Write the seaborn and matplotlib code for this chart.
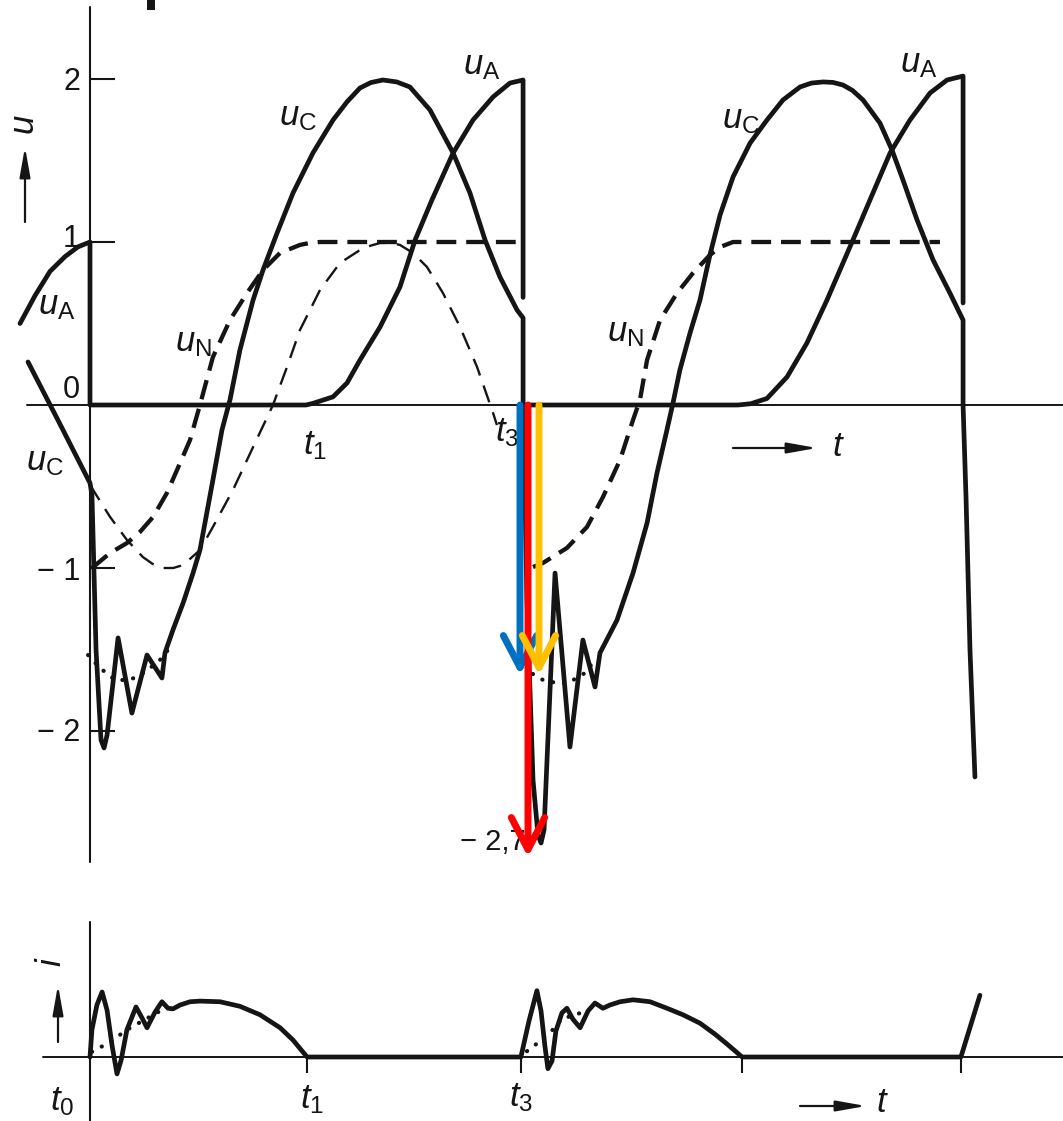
import matplotlib
matplotlib.use("Agg")
import matplotlib.pyplot as plt
from matplotlib.patches import Rectangle
import seaborn as sns

# ---------------- data (t: t0=0, t1=1, t3=2 ; u in units of the axis) -------------
# u_A, first period (before t0 it rises to 1, drops, stays 0, rises to 2, drops at t3)
UA1_T = [-0.324, -0.255, -0.185, -0.116, -0.056, 0.0, 0.0, 1.0, 1.032, 1.125, 1.190, 1.250,
         1.343, 1.435, 1.505, 1.583, 1.681, 1.773, 1.866, 1.944, 2.005, 2.005]
UA1 = [0.50, 0.67, 0.82, 0.91, 0.97, 1.0, 0.0, 0.0, 0.01, 0.05, 0.135, 0.276,
       0.479, 0.724, 1.012, 1.258, 1.546, 1.748, 1.890, 1.975, 1.994, 0.66]
# u_A, second period
UA2_T = [2.005, 3.0, 3.06, 3.134, 3.227, 3.319, 3.412, 3.486, 3.532, 3.611, 3.704,
         3.796, 3.889, 3.968, 4.042, 4.042]
UA2 = [0.0, 0.0, 0.008, 0.04, 0.172, 0.380, 0.644, 0.871, 1.012, 1.258, 1.546,
       1.748, 1.914, 1.994, 2.018, 0.626]
# u_C, both periods
UC_T = [-0.287, -0.144, 0.0, 0.009, 0.028, 0.051, 0.065, 0.079, 0.130, 0.194, 0.264, 0.333,
        0.347, 0.384, 0.431, 0.477, 0.509, 0.569, 0.611, 0.648, 0.694, 0.755, 0.801, 0.866,
        0.940, 1.032, 1.125, 1.19, 1.250, 1.30, 1.356, 1.42, 1.481, 1.574, 1.681, 1.759,
        1.829, 1.898, 1.977,
        2.005, 2.005, 2.023, 2.051, 2.074, 2.088, 2.102, 2.153, 2.222, 2.282, 2.338, 2.361,
        2.440, 2.514, 2.579, 2.625, 2.671, 2.699, 2.731, 2.778, 2.824, 2.870, 2.917, 2.977,
        3.056, 3.134, 3.208, 3.287, 3.34, 3.394, 3.44, 3.486, 3.53, 3.579, 3.657, 3.713,
        3.764, 3.829, 3.903, 3.981, 4.042, 4.042, 4.056, 4.074, 4.097]
UC = [0.264, -0.104, -0.479, -0.55, -1.503, -2.055, -2.104, -2.025, -1.429, -1.890, -1.534,
      -1.675, -1.521, -1.380, -1.215, -1.031, -0.890, -0.460, -0.153, 0.031, 0.337, 0.644,
      0.828, 1.055, 1.301, 1.546, 1.748, 1.86, 1.945, 1.978, 1.994, 1.982, 1.951, 1.810,
      1.546, 1.301, 1.012, 0.785, 0.583,
      0.534, 0.0, -1.196, -2.301, -2.638, -2.687, -2.607, -1.031, -2.098,
      -1.442, -1.730, -1.521, -1.319, -1.031, -0.724, -0.417, -0.153, 0.012, 0.215, 0.442,
      0.644, 0.920, 1.166, 1.399, 1.607, 1.748, 1.871, 1.951, 1.975, 1.982, 1.979, 1.963,
      1.93, 1.871, 1.730, 1.564, 1.380, 1.135, 0.890, 0.687, 0.521, 0.0, -0.583, -1.503,
      -2.282]
# u_N (thick dashed)
UN1_T = [0.009, 0.093, 0.171, 0.231, 0.292, 0.356, 0.417, 0.463, 0.509, 0.569, 0.648,
         0.727, 0.801, 0.880, 0.972, 1.02, 1.065, 1.981]
UN1 = [-1.0, -0.908, -0.847, -0.779, -0.687, -0.540, -0.356, -0.215, 0.0, 0.294, 0.521,
       0.687, 0.828, 0.933, 0.982, 0.995, 1.0, 1.0]
UN2_T = [2.051, 2.097, 2.208, 2.301, 2.375, 2.454, 2.514, 2.546, 2.579, 2.639, 2.718,
         2.792, 2.870, 2.917, 2.977, 3.935]
UN2 = [-0.994, -0.969, -0.877, -0.748, -0.564, -0.337, -0.092, 0.031, 0.276, 0.521, 0.687,
       0.810, 0.920, 0.969, 1.0, 1.0]
# thin dashed curve (first period only)
TH_T = [0.0, 0.093, 0.171, 0.245, 0.29, 0.338, 0.385, 0.431, 0.509, 0.569, 0.662, 0.755,
        0.847, 0.912, 0.972, 1.065, 1.157, 1.250, 1.30, 1.343, 1.39, 1.435, 1.495, 1.560,
        1.634, 1.713, 1.792, 1.866, 1.884]
TH = [-0.491, -0.687, -0.828, -0.933, -0.975, -1.0, -1.0, -0.982, -0.890, -0.748, -0.521,
      -0.258, 0.0, 0.233, 0.460, 0.706, 0.871, 0.951, 0.978, 0.994, 0.995, 0.982, 0.933,
      0.847, 0.687, 0.479, 0.233, -0.049, -0.123]
# dotted mean lines in the u_C oscillation
DOT1_T = [-0.009, 0.046, 0.116, 0.185, 0.255, 0.324, 0.361]
DOT1 = [-1.534, -1.613, -1.687, -1.687, -1.638, -1.564, -1.503]
DOT2_T = [2.05, 2.097, 2.162, 2.213, 2.292, 2.347]
DOT2 = [-1.65, -1.687, -1.706, -1.706, -1.644, -1.546]
# current i (lower panel)
I_T = [0.0, 0.009, 0.032, 0.056, 0.079, 0.102, 0.125, 0.144, 0.171, 0.213, 0.241, 0.264,
       0.301, 0.333, 0.361, 0.384, 0.417, 0.463, 0.509, 0.602, 0.694, 0.787, 0.880, 0.940,
       1.005, 1.995, 2.032, 2.069, 2.088, 2.106, 2.120, 2.139, 2.157, 2.185, 2.208, 2.236,
       2.269, 2.306, 2.338, 2.375, 2.407, 2.454, 2.514, 2.593, 2.671, 2.745, 2.824, 2.894,
       2.949, 3.019, 4.032, 4.12]
I_V = [0.0, 0.42, 0.80, 1.0, 0.72, 0.18, -0.26, -0.05, 0.42, 0.77, 0.60, 0.45, 0.69, 0.85,
       0.75, 0.74, 0.80, 0.85, 0.86, 0.85, 0.78, 0.65, 0.45, 0.26, 0.0, 0.0, 0.55, 1.02, 0.71,
       0.17, -0.18, -0.06, 0.40, 0.68, 0.75, 0.58, 0.45, 0.71, 0.83, 0.75, 0.80, 0.85, 0.88,
       0.85, 0.75, 0.65, 0.52, 0.35, 0.20, 0.0, 0.0, 0.95]
IDOT1_T = [0.009, 0.093, 0.171, 0.278, 0.347]
IDOT1 = [0.08, 0.23, 0.42, 0.62, 0.75]
IDOT2_T = [2.023, 2.046, 2.093, 2.153, 2.185, 2.236, 2.292]
IDOT2 = [0.09, 0.14, 0.28, 0.45, 0.60, 0.63, 0.71]

Y_TICKS = [2, 1, -1, -2]
Y_TICK_LABELS = ["2", "1", "0", "\u2212 1", "\u2212 2"]
Y_TICK_LABEL_VALUES = [2, 1, 0, -1, -2]
LOWER_TICKS = [1.005, 1.995, 3.019, 4.032]

# ---------------- style ----------------
sns.set_theme(style="white")
plt.rcParams["font.family"] = ["Liberation Sans", "DejaVu Sans"]
plt.rcParams["mathtext.fontset"] = "custom"
plt.rcParams["mathtext.rm"] = "Liberation Sans"
plt.rcParams["mathtext.it"] = "Liberation Sans:italic"
plt.rcParams["mathtext.bf"] = "Liberation Sans:bold"

INK = "#151515"
W, H = 1063, 1121
fig = plt.figure(figsize=(W / 100, H / 100), dpi=100)
fig.patch.set_facecolor("white")
ax = fig.add_axes([0, 241 / H, 1, 880 / H])
bx = fig.add_axes([0, 0, 1, 241 / H])


def P(x, y):  # picture position -> upper data coords (for annotations)
    return ((x - 90) / 216, (405 - y) / 163)


def Q(x, y):  # picture position -> lower data coords
    return ((x - 90) / 216, (1057 - y) / 65)


def curve(a, t, v, lw, ls="-", z=3, cap="butt"):
    sns.lineplot(x=t, y=v, ax=a, sort=False, estimator=None, color=INK, linewidth=lw,
                 linestyle=ls, zorder=z, legend=False, solid_joinstyle="round",
                 solid_capstyle="round", dash_capstyle=cap)


DOTS = (0, (0.05, 2.6))

# axes lines
ax.axhline(0, xmin=27 / W, xmax=1, color=INK, lw=1.4, zorder=2)
ax.axvline(0, ymin=(880 - 862) / 880, ymax=(880 - 7) / 880, color=INK, lw=1.5, zorder=2)
ax.hlines(Y_TICKS, 0, 25 / 216, color=INK, lw=1.5, zorder=2)
bx.axhline(0, xmin=43 / W, xmax=1, color=INK, lw=1.4, zorder=2)
bx.axvline(0, ymin=0, ymax=(1121 - 922) / 241, color=INK, lw=1.5, zorder=2)
bx.vlines(LOWER_TICKS, -16 / 65, 0, color=INK, lw=1.5, zorder=2)

# curves
curve(ax, TH_T, TH, 1.7, ls=(0, (7.5, 4.5)))
curve(ax, UN1_T, UN1, 3.1, ls=(0, (4.6, 2.3)))
curve(ax, UN2_T, UN2, 3.1, ls=(0, (4.6, 2.3)))
curve(ax, UA1_T, UA1, 3.4)
curve(ax, UA2_T, UA2, 3.4)
curve(ax, UC_T, UC, 3.4)
curve(ax, DOT1_T, DOT1, 3.0, ls=DOTS, cap="round")
curve(ax, DOT2_T, DOT2, 3.0, ls=DOTS, cap="round")
curve(bx, I_T, I_V, 3.4)
curve(bx, IDOT1_T, IDOT1, 3.0, ls=DOTS, cap="round")
curve(bx, IDOT2_T, IDOT2, 3.0, ls=DOTS, cap="round")

ax.set_xlim(-90 / 216, (W - 90) / 216)
bx.set_xlim(-90 / 216, (W - 90) / 216)
ax.set_ylim((405 - 880) / 163, 405 / 163)
bx.set_ylim((1057 - 1121) / 65, (1057 - 880) / 65)
ax.set_axis_off()
bx.set_axis_off()

# tick labels
label_px = {2: 82, 1: 239, 0: 390, -1: 572, -2: 733}
for v, s in zip(Y_TICK_LABEL_VALUES, Y_TICK_LABELS):
    ax.text(*P(80, label_px[v]), s, ha="right", va="center", fontsize=22, color=INK)
ax.text(*P(460, 842), "\u2212 2,7", ha="left", va="center", fontsize=21, color=INK)

FS = 25
# curve labels
for s, (x, y) in [(r"$u_{\mathrm{C}}$", (298, 117)), (r"$u_{\mathrm{C}}$", (45, 462)),
                  (r"$u_{\mathrm{C}}$", (741, 120)), (r"$u_{\mathrm{A}}$", (482, 66)),
                  (r"$u_{\mathrm{A}}$", (57, 306)), (r"$u_{\mathrm{A}}$", (919, 64)),
                  (r"$u_{\mathrm{N}}$", (193, 343)), (r"$u_{\mathrm{N}}$", (625, 333))]:
    ax.text(*P(x, y), s, ha="center", va="center", fontsize=FS, color=INK)

ax.text(*P(315, 446), r"$t_1$", ha="center", va="center", fontsize=FS, color=INK)
ax.text(*P(507, 433), r"$t_3$", ha="center", va="center", fontsize=FS, color=INK)
bx.text(*Q(62, 1102), r"$t_0$", ha="center", va="center", fontsize=FS, color=INK)
bx.text(*Q(312, 1099), r"$t_1$", ha="center", va="center", fontsize=FS, color=INK)
bx.text(*Q(521, 1097), r"$t_3$", ha="center", va="center", fontsize=FS, color=INK)

# axis name arrows
small = dict(arrowstyle="-|>,head_length=0.9,head_width=0.16", color=INK, lw=1.6,
             mutation_scale=20, shrinkA=0, shrinkB=0)
ax.text(*P(25, 125), r"$u$", rotation=90, ha="center", va="center", fontsize=FS, color=INK)
ax.annotate("", xy=P(25, 147), xytext=P(25, 222), arrowprops=small)
ax.annotate("", xy=P(817, 448), xytext=P(733, 448), arrowprops=small)
ax.text(*P(838, 446), r"$t$", ha="center", va="center", fontsize=FS, color=INK)
bx.text(*Q(52, 962), r"$i$", rotation=90, ha="center", va="center", fontsize=FS, color=INK)
bx.annotate("", xy=Q(58, 985), xytext=Q(58, 1042), arrowprops=small)
bx.annotate("", xy=Q(866, 1106), xytext=Q(800, 1106), arrowprops=small)
bx.text(*Q(882, 1102), r"$t$", ha="center", va="center", fontsize=FS, color=INK)

# coloured overlay arrows
for x, yend, col in [(520, 675, "#0070C0"), (528, 857, "#FF0000"), (539, 675, "#FFC000")]:
    ax.annotate("", xy=P(x, yend), xytext=P(x, 405), zorder=10,
                arrowprops=dict(arrowstyle="->,head_length=1.15,head_width=0.6", color=col,
                                lw=5, mutation_scale=20, shrinkA=0, shrinkB=0))

# cropped mark at the top edge
fig.add_artist(Rectangle((147 / W, 1 - 10 / H), 8 / W, 10 / H, transform=fig.transFigure,
                         color=INK, lw=0))

fig.savefig("out.png", dpi=100, facecolor="white")
